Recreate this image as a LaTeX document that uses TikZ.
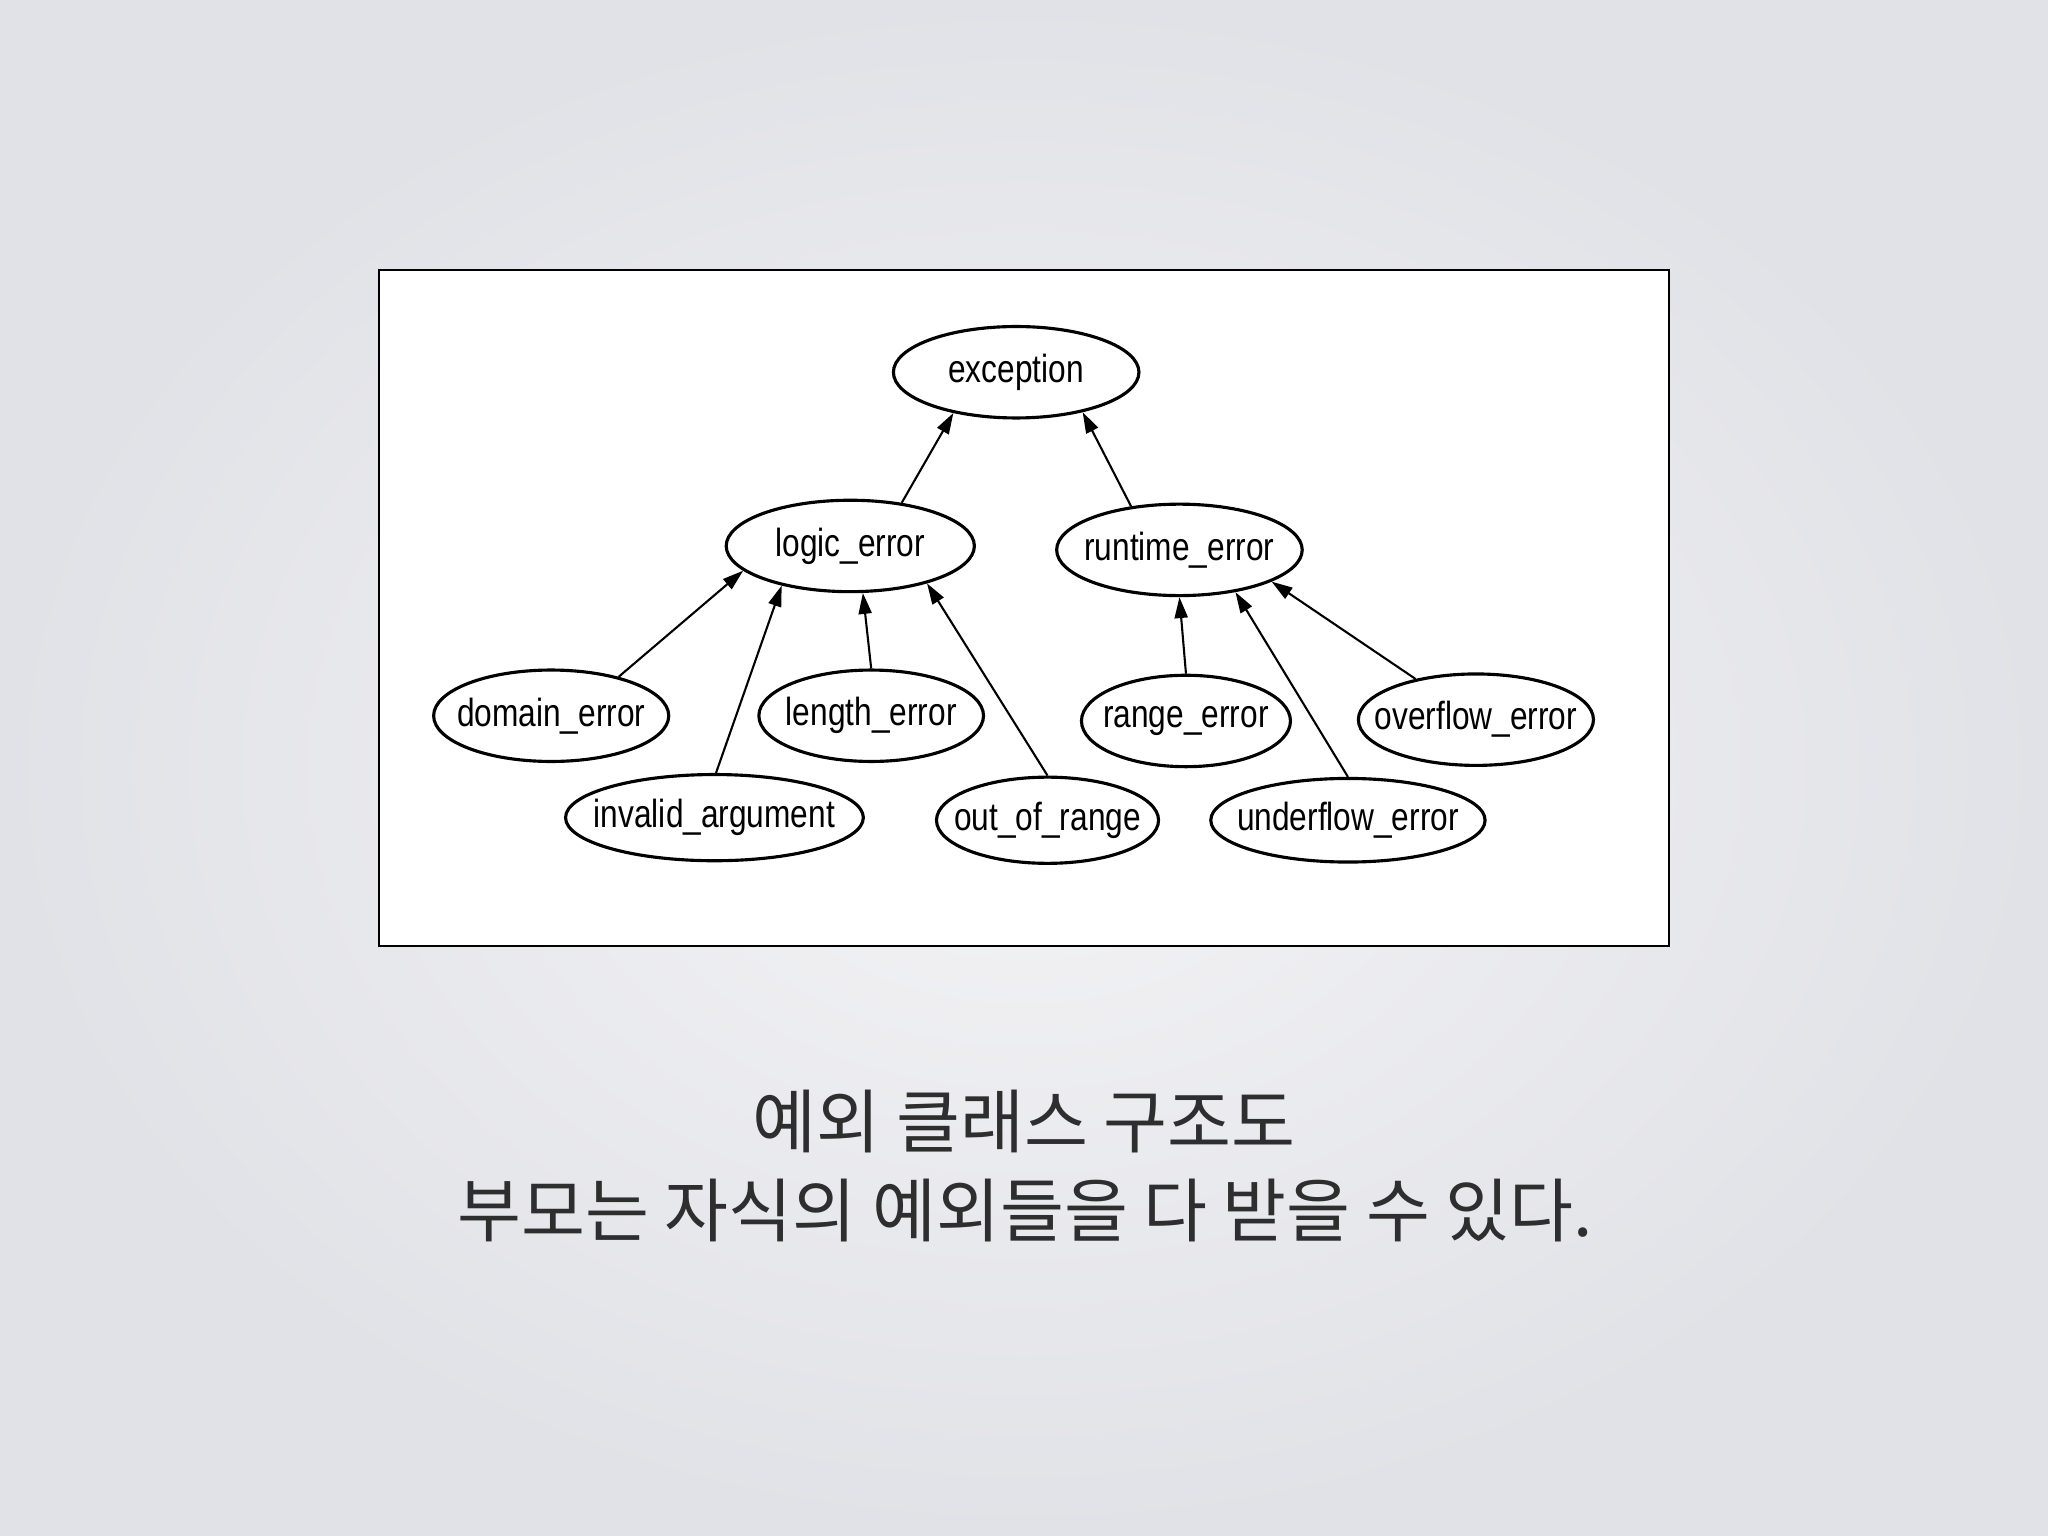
\documentclass[tikz,border=0pt]{standalone}
\usepackage{fontspec}
\setmainfont{Liberation Sans}
\newfontfamily\kofont{Noto Sans CJK KR}
\usetikzlibrary{shapes.geometric,arrows.meta}
\definecolor{bgouter}{HTML}{E1E2E7}
\definecolor{bginner}{HTML}{F4F4F6}
\definecolor{captxt}{HTML}{2E2E2E}
\newcommand{\clsname}[1]{\makebox[0pt]{\scalebox{0.97}[1.2]{#1}}}
\tikzset{
  cls/.style={ellipse,draw=black,line width=1.2pt,inner sep=0pt,minimum height=35pt,font=\fontsize{12.5}{14}\selectfont},
  inh/.style={draw=black,line width=0.8pt,-{Triangle[length=8pt,width=5pt]}},
  captext/.style={font=\kofont\fontsize{26.6}{30}\selectfont,text=captxt}
}
\begin{document}
\begin{tikzpicture}[x=0.5pt,y=-0.5pt]
\useasboundingbox (0,0) rectangle (1568,1176);
\shade[inner color=bginner,outer color=bgouter] (0,0) rectangle (1568,1176);
\node[draw=black,line width=0.8pt,fill=white,minimum width=494pt,minimum height=258.5pt,inner sep=0pt] (frame) at (784,465.5) {};
% nodes
\node[cls,minimum width=94pt] (exc) at (778,285) {\clsname{exception}};
\node[cls,minimum width=95pt] (logic) at (651,418) {\clsname{logic\_error}};
\node[cls,minimum width=94pt] (runtime) at (903,421) {\clsname{runtime\_error}};
\node[cls,minimum width=90pt] (domain) at (422,548) {\clsname{domain\_error}};
\node[cls,minimum width=86pt] (length) at (667,548) {\clsname{length\_error}};
\node[cls,minimum width=80pt] (range) at (908,552) {\clsname{range\_error}};
\node[cls,minimum width=90pt] (overflow) at (1130,551) {\clsname{overflow\_error}};
\node[cls,minimum width=114pt,minimum height=33pt] (invalid) at (547,626) {\clsname{invalid\_argument}};
\node[cls,minimum width=85pt,minimum height=33pt] (oor) at (802,628) {\clsname{out\_of\_range}};
\node[cls,minimum width=105pt,minimum height=32pt] (underflow) at (1032,628) {\clsname{underflow\_error}};
% edges
\draw[inh] (logic.40) -- (exc.213);
\draw[inh] (runtime.138) -- (exc.329);
\draw[inh] (domain.30) -- (logic.193);
\draw[inh] (invalid.88) -- (logic.210);
\draw[inh] (length.90) -- (logic.285);
\draw[inh] (oor.90) -- (logic.334);
\draw[inh] (range.90) -- (runtime.270);
\draw[inh] (underflow.90) -- (runtime.323);
\draw[inh] (overflow.146) -- (runtime.341);
% caption
\node[captext] (cap1) at (784,859) {예외 클래스 구조도};
\node[captext] (cap2) at (785,927) {부모는 자식의 예외들을 다 받을 수 있다.};
\end{tikzpicture}
\end{document}
